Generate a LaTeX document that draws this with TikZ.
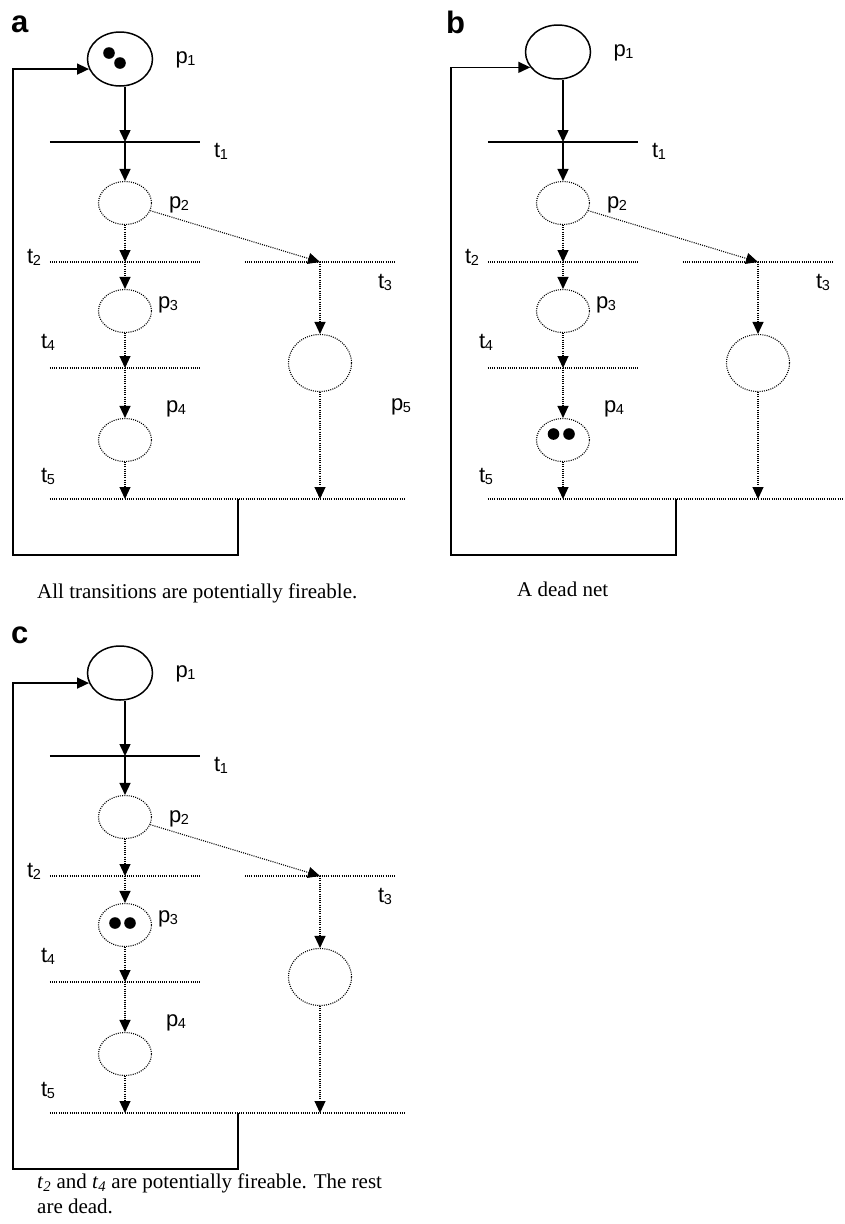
\documentclass[tikz,border=0pt]{standalone}
\usepackage{fontspec}
\setmainfont{Liberation Serif}
\newfontfamily\sansfam{Liberation Sans}
\usetikzlibrary{arrows.meta, shapes.geometric}

\newcommand{\labfont}{\sansfam\fontsize{22}{22}\selectfont}
\newcommand{\pl}[2]{#1\kern-0.5pt\raisebox{-2.5pt}{\fontsize{14.5}{14.5}\selectfont #2}}

\tikzset{
  dotline/.style={line width=1.1pt, dash pattern=on 1pt off 1.2pt},
  solidline/.style={line width=1.5pt},
  place/.style={ellipse, draw, dotline, inner sep=0pt, minimum width=53pt, minimum height=43pt},
  marked/.style={ellipse, draw, solidline, inner sep=0pt, minimum width=65pt, minimum height=54pt},
  trans/.style={inner sep=0pt, minimum height=0pt},
  flow/.style={-{Triangle[length=12pt,width=11pt]}},
  lab/.style={font=\labfont, anchor=base west, inner sep=0pt},
  tag/.style={font=\sansfam\bfseries\fontsize{31}{31}\selectfont, anchor=base west, inner sep=0pt},
  caption/.style={font=\fontsize{21}{25}\selectfont, anchor=base west, inner sep=0pt},
  tok/.style={fill=black},
}

% one net: #1 = height of p1, #2 = angle where the return arc enters p1
\newcommand{\petrinet}[2]{%
  % places
  \node[marked] (p1) at (120,#1) {};
  \node[place] (p2) at (125,203) {};
  \node[place] (p3) at (125,311) {};
  \node[place] (p4) at (125,440) {};
  \node[place, minimum width=63pt, minimum height=57pt] (p5) at (320,363) {};
  % transitions
  \node[trans, minimum width=150pt] (t1) at (125,142) {};
  \node[trans, minimum width=150pt] (t2) at (125,262) {};
  \node[trans, minimum width=150pt] (t3) at (320,262) {};
  \node[trans, minimum width=150pt] (t4) at (125,368) {};
  \node[trans, minimum width=355pt] (t5) at (227.5,499) {};
  \draw[solidline] (t1.west) -- (t1.east);
  \draw[dotline] (t2.west) -- (t2.east);
  \draw[dotline] (t3.west) -- (t3.east);
  \draw[dotline] (t4.west) -- (t4.east);
  \draw[dotline] (t5.west) -- (t5.east);
  % labels
  \node[lab] (lp1) at (175.5,{#1+4}) {\pl{p}{1}};
  \node[lab] (lp2) at (169,208) {\pl{p}{2}};
  \node[lab] (lp3) at (158,308) {\pl{p}{3}};
  \node[lab] (lp4) at (166,412) {\pl{p}{4}};
  \node[lab] (lt1) at (214,157) {\pl{t}{1}};
  \node[lab] (lt2) at (27,263) {\pl{t}{2}};
  \node[lab] (lt3) at (378,288) {\pl{t}{3}};
  \node[lab] (lt4) at (41,348) {\pl{t}{4}};
  \node[lab] (lt5) at (41,482) {\pl{t}{5}};
  % arcs
  \draw[flow, solidline] (p1.south -| t1.center) -- (t1.center);
  \draw[flow, solidline] (t1.center) -- (p2);
  \draw[flow, dotline] (p2) -- (t2.center);
  \draw[flow, dotline] (p2) -- (t3.center);
  \draw[flow, dotline] (t2.center) -- (p3);
  \draw[flow, dotline] (p3) -- (t4.center);
  \draw[flow, dotline] (t4.center) -- (p4);
  \draw[flow, dotline] (p4) -- (p4 |- t5.center);
  \draw[flow, dotline] (t3.center) -- (p5);
  \draw[flow, dotline] (p5) -- (p5 |- t5.center);
  % return arc t5 -> p1
  \coordinate (back) at (238,499);
  \draw[flow, solidline] (back) |- (13,555) |- (p1.#2);
}

\begin{document}
\begin{tikzpicture}[x=1pt, y=-1pt]
  \useasboundingbox (0,0) rectangle (845,1224);

  % (a)
  \begin{scope}[name prefix=a-]
    \node[tag] (tag) at (11,32) {a};
    \petrinet{59}{198}
    \node[lab] (lp5) at (391,410) {\pl{p}{5}};
    \fill[tok] ([shift={(-11,-6)}]p1.center) circle[radius=5.8pt];
    \fill[tok] ([shift={(0,4)}]p1.center) circle[radius=5.8pt];
    \node[caption] (cap) at (37,598) {All transitions are potentially fireable.};
  \end{scope}

  % (b)
  \begin{scope}[shift={(438,0)}, name prefix=b-]
    \node[tag] (tag) at (8,33) {b};
    \petrinet{52}{209}
    \fill[tok] ([shift={(-9.5,-6)}]p4.center) circle[radius=5.8pt];
    \fill[tok] ([shift={(6,-6)}]p4.center) circle[radius=5.8pt];
    \node[caption] (cap) at (79,596) {A dead net};
  \end{scope}

  % (c)
  \begin{scope}[shift={(0,614)}, name prefix=c-]
    \node[tag] (tag) at (11,29) {c};
    \petrinet{59}{198}
    \fill[tok] ([shift={(-10,-2)}]p3.center) circle[radius=5.8pt];
    \fill[tok] ([shift={(5,-2)}]p3.center) circle[radius=5.8pt];
    \node[caption] (cap1) at (37,574) {\textit{t}\textsubscript{\textit{2}} and \textit{t}\textsubscript{\textit{4}} are potentially fireable. The rest};
    \node[caption] (cap2) at (37,599) {are dead.};
  \end{scope}
\end{tikzpicture}
\end{document}
